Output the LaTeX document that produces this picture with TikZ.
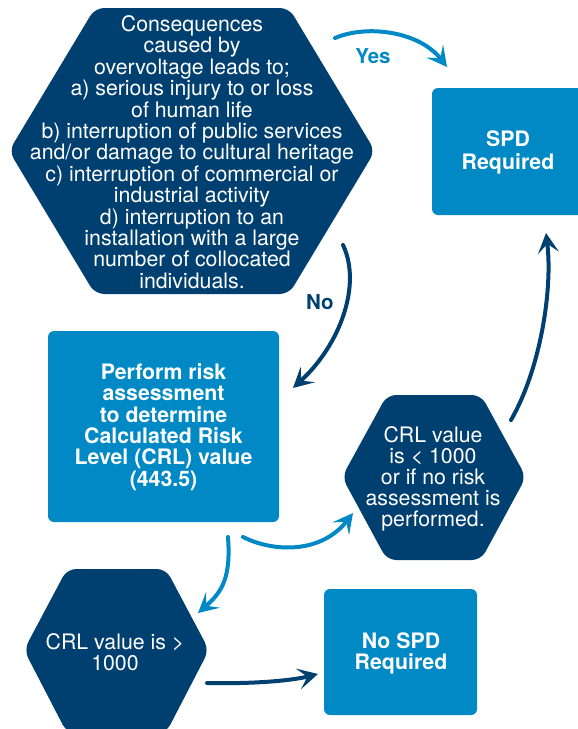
\documentclass[tikz,border=0pt]{standalone}
\usepackage{fontspec}
\setmainfont{TeX Gyre Heros}
\usetikzlibrary{arrows.meta}
\definecolor{navy}{RGB}{0,64,112}
\definecolor{sky}{RGB}{0,137,196}
\begin{document}
\begin{tikzpicture}[x=1pt,y=-1pt,
  hexfill/.style={fill=navy, rounded corners=9pt},
  boxfill/.style={fill=sky, rounded corners=6pt},
  txt/.style={text=white, align=center, font=\fontsize{21.3}{21.4}\selectfont, inner sep=0pt},
  btxt/.style={text=white, align=center, font=\fontsize{21.3}{21.4}\selectfont\bfseries, inner sep=0pt},
  flow/.style={line width=4pt, line cap=round, -{Stealth[length=20pt,width=21pt,inset=9pt]}},
  lbl/.style={font=\fontsize{20.5}{22}\selectfont\bfseries, inner sep=0pt}]
\useasboundingbox (0,0) rectangle (578,729);

% main question hexagon
\fill[hexfill] (95,8) -- (289,8) -- (375,151) -- (289,294) -- (95,294) -- (9,151) -- cycle;
\node[txt] (q) at (192,152) {Consequences\\caused by\\overvoltage leads to;\\a) serious injury to or loss\\of human life\\b) interruption of public services\\and/or damage to cultural heritage\\c) interruption of commercial or\\industrial activity\\d) interruption to an\\installation with a large\\number of collocated\\individuals.};

% SPD required
\fill[boxfill] (432,88) rectangle (592,215);
\node[btxt, font=\fontsize{21.3}{23}\selectfont\bfseries] (spd) at (508,152) {SPD\\Required};

% perform risk assessment
\fill[boxfill] (48,331) rectangle (279,522);
\node[btxt] (risk) at (163.5,427) {Perform risk\\assessment\\to determine\\Calculated Risk\\Level (CRL) value\\(443.5)};

% CRL < 1000 hexagon
\fill[hexfill] (387,395) -- (481,395) -- (526,477) -- (481,560) -- (387,560) -- (342,477) -- cycle;
\node[txt, font=\fontsize{21.3}{21}\selectfont] (low) at (433,479) {CRL value\\is < 1000\\or if no risk\\assessment is\\performed.};

% CRL > 1000 hexagon
\fill[hexfill] (67,569) -- (166,569) -- (209,650) -- (166,733) -- (67,733) -- (24,650) -- cycle;
\node[txt] (high) at (115,652) {CRL value is >\\1000};

% No SPD required
\fill[boxfill] (324,589) rectangle (477,715);
\node[btxt, font=\fontsize{21.3}{21}\selectfont\bfseries] (nospd) at (401,653) {No SPD\\Required};

% connector end points
\coordinate (ya) at (335,38);  \coordinate (yb) at (447,67);
\coordinate (na) at (343,245); \coordinate (nb) at (293,388);
\coordinate (la) at (243,537); \coordinate (lb) at (353,513);
\coordinate (ha) at (228,537); \coordinate (hb) at (198,613);
\coordinate (sa) at (511,420); \coordinate (sb) at (546,233);
\coordinate (ma) at (207,683); \coordinate (mb) at (318,674);

\draw[flow, sky] (ya) .. controls (368,24) and (420,32) .. (yb);
\node[lbl, text=sky] (yes) at (373,56) {Yes};
\draw[flow, navy] (na) .. controls (362,285) and (340,345) .. (nb);
\node[lbl, text=navy] (no) at (320,302) {No};
\draw[flow, sky] (la) .. controls (275,553) and (322,553) .. (lb);
\draw[flow, sky] (ha) .. controls (231,578) and (222,592) .. (hb);
\draw[flow, navy] (sa) .. controls (540,370) and (553,290) .. (sb);
\draw[flow, navy] (ma) .. controls (250,684) and (290,681) .. (mb);
\end{tikzpicture}
\end{document}
